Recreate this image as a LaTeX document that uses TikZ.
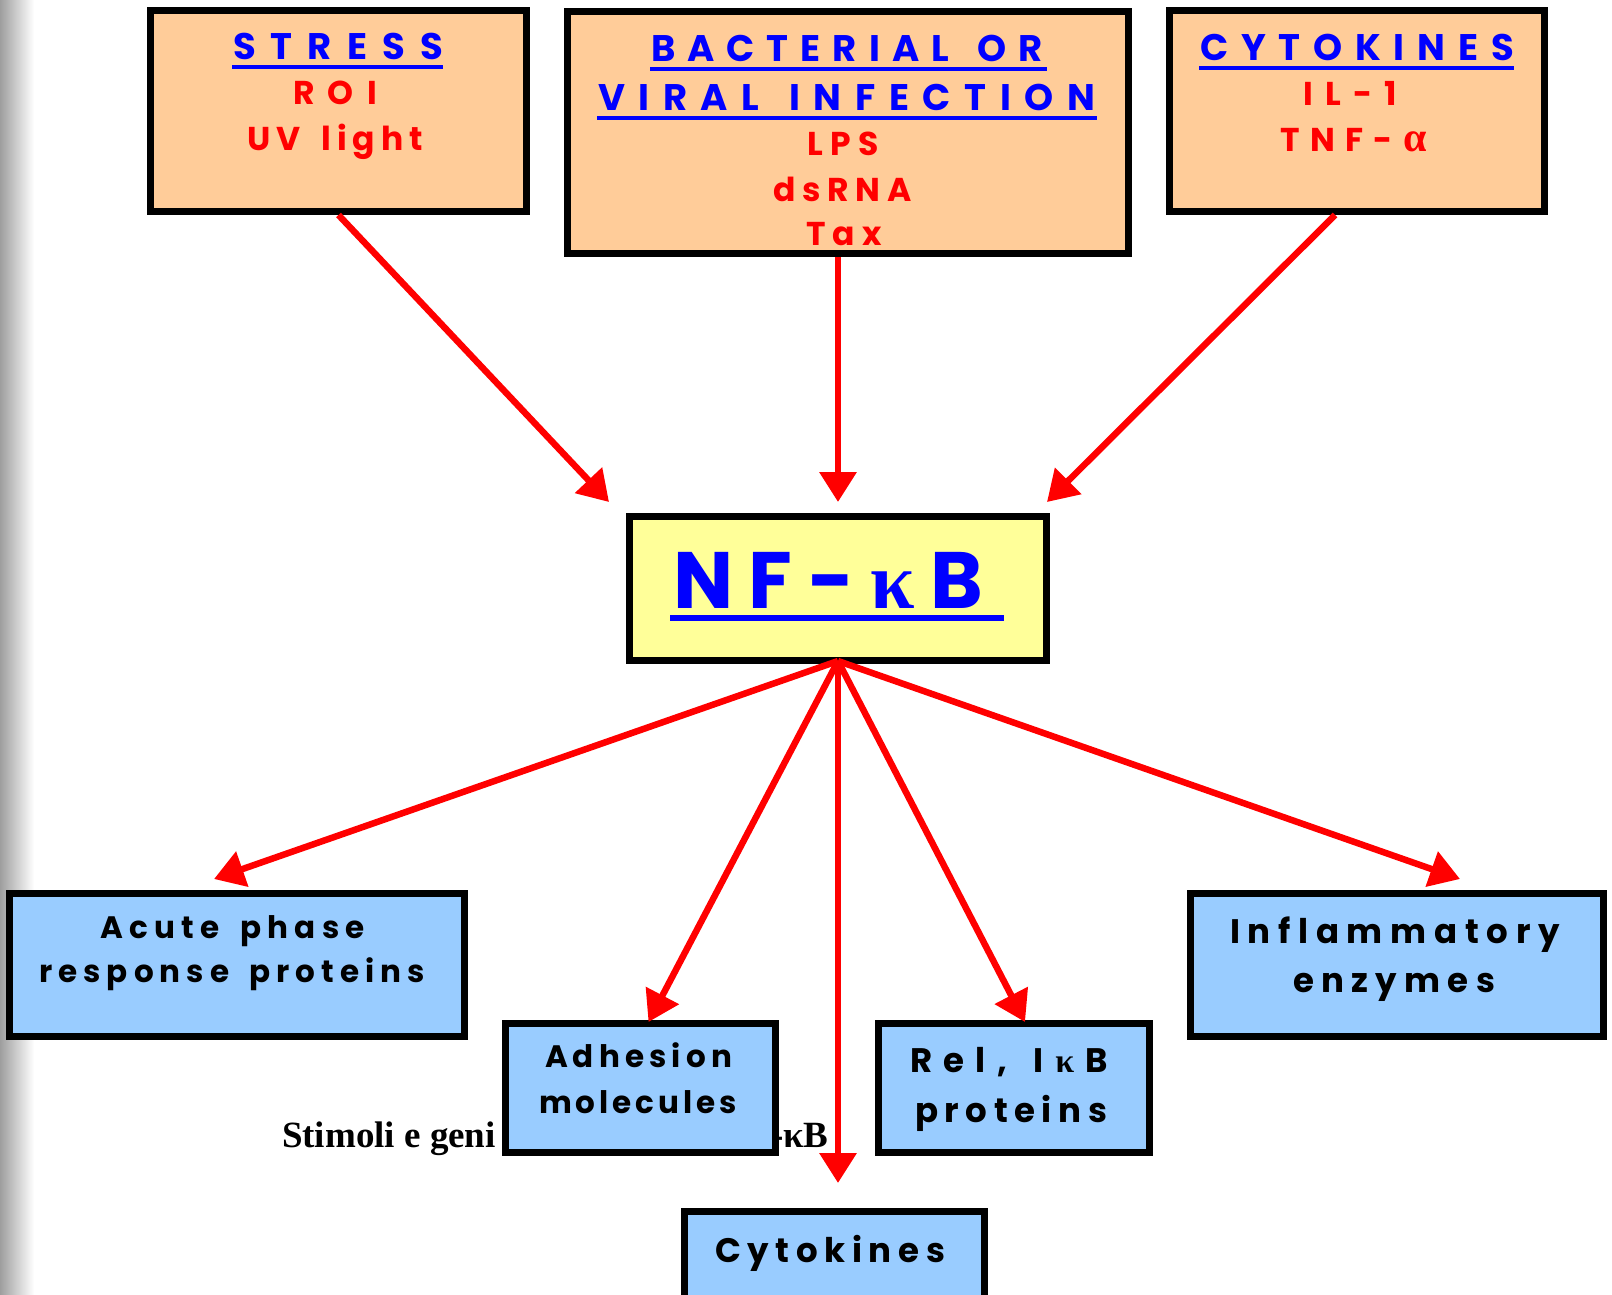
\documentclass[tikz,border=0pt]{standalone}
\usepackage{fontspec}
\setmainfont{Poppins}
\newfontfamily\csf{Poppins}
\newfontfamily\grk{Liberation Serif}
\newfontfamily\tms{Liberation Serif}
\usetikzlibrary{arrows.meta,calc}
\definecolor{peach}{HTML}{FFCC99}
\definecolor{lyellow}{HTML}{FFFF99}
\definecolor{lblue}{HTML}{99CCFF}
\definecolor{cblue}{HTML}{0000FF}
\definecolor{cred}{HTML}{FF0000}
\makeatletter
\def\trk{0}
% word gap: the tracking lost at the end of a glyph run, plus extra room
\newcommand\wsp{\hskip\trk pt\hskip0.45em\relax}
% gap before a glyph in another font
\newcommand\gk{\kern\trk pt\relax}
\newcommand\fitto[3]{%
  \def\trk{0}%
  \setbox0\hbox{#3}%
  \dimen0=\wd0
  \pgfmathsetmacro\lsv{(#1-\strip@pt\dimen0)/(\f@size*(#2-1))*100}%
  \pgfmathsetmacro\trk{\lsv/100*\f@size}%
  \edef\fitdo{\noexpand\addfontfeatures{LetterSpace=\lsv}}\fitdo
  #3}
\makeatother
\tikzset{
  nbox/.style={draw=black, line width=7pt, rectangle, inner sep=0pt, outer sep=3.5pt},
  topbox/.style={nbox, fill=peach},
  nfbox/.style={nbox, fill=lyellow},
  outbox/.style={nbox, fill=lblue},
  txt/.style={anchor=base west, inner sep=0pt, outer sep=0pt},
  ttltxt/.style={txt, text=cblue, font=\csf\bfseries\fontsize{37}{37}\selectfont},
  redtxt/.style={txt, text=cred, font=\csf\bfseries\fontsize{33}{33}\selectfont},
  blacktxt/.style={txt, text=black, font=\csf\bfseries\fontsize{34}{34}\selectfont},
  smalltxt/.style={txt, text=black, font=\csf\bfseries\fontsize{31}{31}\selectfont},
  bigtxt/.style={txt, text=cblue, font=\csf\bfseries\fontsize{80}{80}\selectfont},
  captxt/.style={txt, text=black, font=\tms\bfseries\fontsize{37}{37}\selectfont},
  uline/.style={draw=cblue, line width=4pt},
  arr/.style={draw=cred, line width=6.5pt, -{Triangle[length=30pt,width=36pt]}},
}
\begin{document}
\begin{tikzpicture}[x=1pt,y=-1pt]
\useasboundingbox (0,0) rectangle (1612,1295);
\fill[white] (0,0) rectangle (1612,1295);
\shade[left color=black!38, right color=white] (0,0) rectangle (34,1295);

% caption (partly hidden behind a box)
\node[captxt] (capA) at (282,1147) {Stimoli e geni};
\node[captxt] (capB) at (771,1147) {-κB};

% boxes
\node[topbox, minimum width=376pt, minimum height=201pt] (stress) at (338.5,111) {};
\node[topbox, minimum width=561pt, minimum height=242pt] (bact) at (848,132.5) {};
\node[topbox, minimum width=375pt, minimum height=201pt] (cyt) at (1357,111) {};
\node[nfbox, minimum width=417pt, minimum height=144pt] (nfkb) at (838,588.5) {};
\node[outbox, minimum width=455pt, minimum height=143pt] (acute) at (237,965) {};
\node[outbox, minimum width=270pt, minimum height=129pt] (adh) at (640.5,1088) {};
\node[outbox, minimum width=271pt, minimum height=129pt] (rel) at (1014,1088) {};
\node[outbox, minimum width=413pt, minimum height=143pt] (infl) at (1397,965) {};
\node[outbox, minimum width=300pt, minimum height=128.5pt] (cytb) at (834.5,1275.75) {};

% top box texts
\node[ttltxt] (tStress) at (233,60) {\fitto{210}{6}{STRESS}};
\draw[uline] ($(tStress.base west)+(-1,7)$) -- ++(211,0);
\node[redtxt] (tRoi) at (293,105) {\fitto{84}{3}{ROI}};
\node[redtxt] (tUv) at (247,150) {\fitto{176}{7}{UV\wsp light}};

\node[ttltxt] (tBact) at (651,62) {\fitto{392}{11}{BACTERIAL\wsp OR}};
\draw[uline] ($(tBact.base west)+(-1,7)$) -- ++(397,0);
\node[ttltxt] (tViral) at (598,111) {\fitto{497}{14}{VIRAL\wsp INFECTION}};
\draw[uline] ($(tViral.base west)+(-1,7)$) -- ++(500,0);
\node[redtxt] (tLps) at (807,156) {\fitto{72}{3}{LPS}};
\node[redtxt] (tDs) at (773,201) {\fitto{139}{5}{dsRNA}};
\node[redtxt] (tTax) at (806,245) {\fitto{76}{3}{Tax}};

\node[ttltxt] (tCyt) at (1200,61) {\fitto{314}{9}{CYTOKINES}};
\draw[uline] ($(tCyt.base west)+(-1,7)$) -- ++(315,0);
\node[redtxt] (tIl) at (1303,106) {\fitto{94}{4}{IL-1}};
\node[redtxt] (tTnf) at (1280,152) {\fitto{147}{5}{TNF-\gk{\grk\fontsize{42}{42}\selectfont α}}};

% NF-kB
\node[bigtxt] (tNf) at (673,608) {\fitto{310}{5}{NF-\gk{\grk κ}\gk B}};
\draw[uline, line width=6.5pt] ($(tNf.base west)+(-3,10)$) -- ++(334,0);

% bottom box texts
\node[smalltxt] (tAc1) at (100,938) {\fitto{265}{10}{Acute\wsp phase}};
\node[smalltxt] (tAc2) at (39,982) {\fitto{386}{16}{response\wsp proteins}};
\node[smalltxt] (tAd1) at (545,1067) {\fitto{187}{8}{Adhesion}};
\node[smalltxt] (tAd2) at (539,1113) {\fitto{198}{9}{molecules}};
\node[blacktxt] (tRe1) at (910,1072) {\fitto{198}{7}{Rel,\wsp I\gk{\grk κ}\gk B}};
\node[blacktxt] (tRe2) at (915,1122) {\fitto{192}{8}{proteins}};
\node[blacktxt] (tIn1) at (1230,943) {\fitto{330}{12}{Inflammatory}};
\node[blacktxt] (tIn2) at (1293,992) {\fitto{202}{7}{enzymes}};
\node[blacktxt] (tCy) at (715,1262) {\fitto{230}{9}{Cytokines}};

% arrow end points
\coordinate (sB) at ($(bact.south)+(-10,0)$);
\coordinate (sC) at ($(cyt.south)+(-22,0)$);
\coordinate (tipA) at ($(nfkb.north west)+(-17,-11)$);
\coordinate (tipB) at ($(nfkb.north)+(0,-11)$);
\coordinate (tipC) at ($(nfkb.north east)+(-3,-11)$);
\coordinate (sN) at ($(nfkb.south)+(0,-3)$);
\coordinate (tipD) at ($(acute.north)+(-23,-11)$);
\coordinate (tipE) at ($(adh.north)+(8,2)$);
\coordinate (tipF) at ($(cytb.north)+(3.5,-25)$);
\coordinate (tipG) at ($(rel.north)+(11,2)$);
\coordinate (tipH) at ($(infl.north)+(63,-11)$);

% arrows
\draw[arr] (stress.south) -- (tipA);
\draw[arr] (sB) -- (tipB);
\draw[arr] (sC) -- (tipC);
\draw[arr] (sN) -- (tipD);
\draw[arr] (sN) -- (tipE);
\draw[arr] (sN) -- (tipF);
\draw[arr] (sN) -- (tipG);
\draw[arr] (sN) -- (tipH);
\end{tikzpicture}
\end{document}
